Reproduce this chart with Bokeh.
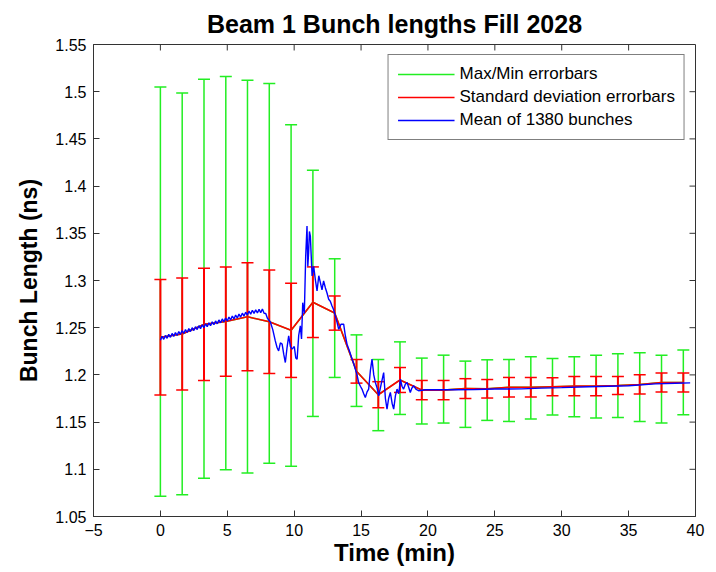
from bokeh.plotting import figure
from bokeh.models import Range1d, FixedTicker, LinearAxis, Whisker, ColumnDataSource, TeeHead, Legend, LegendItem
from bokeh.embed import file_html
from bokeh.resources import INLINE

# Error bar sample times (min)
bar_t = [0.00, 1.63, 3.26, 4.89, 6.51, 8.14, 9.77, 11.40, 13.03, 14.66, 16.29, 17.91, 19.54,
         21.17, 22.80, 24.43, 26.06, 27.69, 29.31, 30.94, 32.57, 34.20, 35.83, 37.46, 39.09]
# Mean bunch length (ns) at bar times
bar_mean = [1.2398, 1.2433, 1.2535, 1.2565, 1.2616, 1.2563, 1.2472, 1.2770, 1.2655, 1.2038,
            1.1790, 1.1946, 1.1839, 1.1839, 1.1855, 1.1853, 1.1869, 1.1869, 1.1875, 1.1881,
            1.1881, 1.1888, 1.1899, 1.1919, 1.1919]
# Standard deviation (ns)
bar_std = [0.0612, 0.0593, 0.0595, 0.0578, 0.0573, 0.0548, 0.0499, 0.0374, 0.0181, 0.0125,
           0.0138, 0.0132, 0.0102, 0.0102, 0.0105, 0.0098, 0.0104, 0.0104, 0.0096, 0.0102,
           0.0102, 0.0095, 0.0102, 0.0101, 0.0101]
# Max / Min (ns)
bar_max = [1.5050, 1.4985, 1.5133, 1.5162, 1.5120, 1.5088, 1.4651, 1.4168, 1.3230, 1.2424,
           1.2163, 1.2350, 1.2178, 1.2209, 1.2146, 1.2160, 1.2163, 1.2191, 1.2173, 1.2191,
           1.2209, 1.2223, 1.2234, 1.2209, 1.2265]
bar_min = [1.0715, 1.0730, 1.0905, 1.0994, 1.0962, 1.1064, 1.1032, 1.1560, 1.1973, 1.1666,
           1.1409, 1.1581, 1.1480, 1.1490, 1.1444, 1.1518, 1.1507, 1.1533, 1.1575, 1.1557,
           1.1543, 1.1550, 1.1507, 1.1490, 1.1578]

# Mean of 1380 bunches, fine time resolution
mean_t = [0.000, 0.125, 0.250, 0.375, 0.500, 0.625, 0.750, 0.875, 1.000, 1.125, 1.250, 1.375,
          1.500, 1.625, 1.750, 1.875, 2.000, 2.125, 2.250, 2.375, 2.500, 2.625, 2.750, 2.875,
          3.000, 3.125, 3.250, 3.375, 3.500, 3.625, 3.750, 3.875, 4.000, 4.125, 4.250, 4.375,
          4.500, 4.625, 4.750, 4.875, 5.000, 5.125, 5.250, 5.375, 5.500, 5.625, 5.750, 5.875,
          6.000, 6.125, 6.250, 6.375, 6.500, 6.625, 6.750, 6.875, 7.000, 7.125, 7.250, 7.375,
          7.500, 7.625, 7.750, 7.875, 8.000,
          8.22, 8.40, 8.59, 8.72, 8.84, 8.97, 9.10, 9.22, 9.34, 9.46, 9.59, 9.72, 9.84, 10.01,
          10.12, 10.22, 10.34, 10.46, 10.55, 10.64, 10.76, 10.86, 10.96, 11.02, 11.08, 11.14,
          11.21, 11.34, 11.46, 11.58, 11.71, 11.84, 11.96, 12.08, 12.20, 12.33, 12.45, 12.58,
          12.70, 12.83, 12.95, 13.08, 13.20, 13.33, 13.50, 13.70, 13.82, 13.95, 14.14, 14.33,
          14.45, 14.57, 14.70, 14.82, 14.95, 15.07, 15.20, 15.32, 15.45, 15.57, 15.70, 15.82,
          15.95, 16.07, 16.20, 16.32, 16.50, 16.69, 16.82, 16.94, 17.06, 17.19, 17.32, 17.44,
          17.57, 17.69, 17.82, 17.94, 18.06, 18.18, 18.31, 18.44, 18.56, 18.68, 18.80, 18.93,
          19.10, 19.30, 19.55, 19.81,
          22.0, 23.5, 25.0, 27.0, 28.5, 30.0, 32.0, 33.5, 35.0, 37.0, 38.5, 39.6]
mean_v = [1.2367, 1.2408, 1.2377, 1.2418, 1.2388, 1.2429, 1.2398, 1.2439, 1.2408, 1.2449,
          1.2418, 1.2459, 1.2429, 1.2470, 1.2439, 1.2480, 1.2449, 1.2490, 1.2459, 1.2500,
          1.2470, 1.2511, 1.2480, 1.2521, 1.2490, 1.2531, 1.2500, 1.2541, 1.2511, 1.2552,
          1.2521, 1.2562, 1.2531, 1.2572, 1.2541, 1.2582, 1.2552, 1.2593, 1.2562, 1.2603,
          1.2572, 1.2613, 1.2582, 1.2623, 1.2593, 1.2634, 1.2603, 1.2644, 1.2613, 1.2654,
          1.2623, 1.2664, 1.2634, 1.2675, 1.2644, 1.2685, 1.2652, 1.2690, 1.2656, 1.2694,
          1.2660, 1.2698, 1.2652, 1.2650, 1.2600,
          1.2561, 1.2480, 1.2360, 1.2290, 1.2255, 1.2340, 1.2326, 1.2220, 1.2131, 1.2280,
          1.2413, 1.2300, 1.2273, 1.2300, 1.2180, 1.2167, 1.2420, 1.2519, 1.2380, 1.2765,
          1.2650, 1.3250, 1.3576, 1.3150, 1.3294, 1.3520, 1.3470, 1.3048, 1.3150, 1.3013,
          1.2889, 1.3050, 1.2977, 1.2900, 1.2995, 1.2924, 1.2870, 1.2801, 1.2780, 1.2731,
          1.2690, 1.2625, 1.2560, 1.2484, 1.2537, 1.2537, 1.2420, 1.2326, 1.2250, 1.2167,
          1.2120, 1.2061, 1.2000, 1.1920, 1.1880, 1.1850, 1.1800, 1.1761, 1.1820, 1.1850,
          1.2050, 1.2167, 1.2000, 1.1920, 1.1860, 1.1779, 1.1900, 1.2025, 1.1750, 1.1638,
          1.1750, 1.1814, 1.1700, 1.1638, 1.1780, 1.1850, 1.1800, 1.1956, 1.1880, 1.1850,
          1.1900, 1.1920, 1.1870, 1.1814, 1.1860, 1.1885, 1.1850, 1.1832, 1.1838, 1.1843,
          1.1843, 1.1845, 1.1850, 1.1852, 1.1860, 1.1865, 1.1874, 1.1880, 1.1885, 1.1905,
          1.1912, 1.1916]

x_ticks = [-5, 0, 5, 10, 15, 20, 25, 30, 35, 40]
y_ticks = [1.05, 1.1, 1.15, 1.2, 1.25, 1.3, 1.35, 1.4, 1.45, 1.5, 1.55]
y_tick_labels = ["1.05", "1.1", "1.15", "1.2", "1.25", "1.3", "1.35", "1.4", "1.45", "1.5", "1.55"]

FONT = "Liberation Sans"
AXIS_COLOR = "#333333"
X0, X1 = -5, 40
Y0, Y1 = 1.05, 1.55
FRAME_W, FRAME_H = 602, 473
TICK_PX = 6

p = figure(width=716, height=572, output_backend="svg", toolbar_location=None,
           x_range=Range1d(X0, X1), y_range=Range1d(Y0, Y1),
           min_border_left=93, min_border_right=21, min_border_top=43, min_border_bottom=56,
           x_axis_location=None, y_axis_location=None)
p.title.text = "Beam 1 Bunch lengths Fill 2028"
p.title.align = "center"
p.title.text_font = FONT
p.title.text_font_size = "25px"
p.title.text_font_style = "bold"
p.title.text_color = "black"
p.title.offset = 0
p.title.standoff = 14

p.xgrid.visible = False
p.ygrid.visible = False
p.outline_line_color = AXIS_COLOR
p.outline_line_width = 1
p.background_fill_color = "white"
p.border_fill_color = "white"

def make_axis():
    ax = LinearAxis()
    ax.axis_line_color = AXIS_COLOR
    ax.major_tick_line_color = AXIS_COLOR
    ax.major_tick_in = TICK_PX
    ax.major_tick_out = 0
    ax.minor_tick_line_color = None
    ax.major_label_text_font = FONT
    ax.major_label_text_font_size = "16px"
    ax.major_label_text_color = "black"
    ax.axis_label_text_color = "black"
    return ax

xb = make_axis()
xb.ticker = FixedTicker(ticks=x_ticks)
xb.axis_label = "Time (min)"
xb.axis_label_text_font = FONT
xb.axis_label_text_font_size = "24px"
xb.axis_label_text_font_style = "bold"
xb.axis_label_standoff = 0
xb.major_label_standoff = 7
p.add_layout(xb, "below")

yl = make_axis()
yl.ticker = FixedTicker(ticks=y_ticks)
yl.major_label_overrides = {t: s for t, s in zip(y_ticks, y_tick_labels)}
yl.axis_label = "Bunch Length (ns)"
yl.axis_label_text_font = FONT
yl.axis_label_text_font_size = "23px"
yl.axis_label_text_font_style = "bold"
yl.axis_label_standoff = 10
yl.major_label_standoff = 7
p.add_layout(yl, "left")

# inward ticks on the top and right sides of the box (MATLAB style)
dy = TICK_PX * (Y1 - Y0) / FRAME_H
dx = TICK_PX * (X1 - X0) / FRAME_W
top_x = [t for t in x_ticks if X0 < t < X1]
p.segment(x0=top_x, y0=[Y1] * len(top_x), x1=top_x, y1=[Y1 - dy] * len(top_x),
          line_color=AXIS_COLOR, line_width=1)
right_y = [t for t in y_ticks if Y0 < t < Y1]
p.segment(x0=[X1] * len(right_y), y0=right_y, x1=[X1 - dx] * len(right_y), y1=right_y,
          line_color=AXIS_COLOR, line_width=1)

GREEN = "#22ee22"
RED = "#ff0000"
BLUE = "#0000ff"

src = ColumnDataSource(dict(
    t=bar_t, mean=bar_mean,
    mx=bar_max, mn=bar_min,
    sd_hi=[m + s for m, s in zip(bar_mean, bar_std)],
    sd_lo=[m - s for m, s in zip(bar_mean, bar_std)],
))

gw = Whisker(base="t", upper="mx", lower="mn", source=src, dimension="height",
             line_color=GREEN, line_width=1.5,
             upper_head=TeeHead(size=12, line_color=GREEN, line_width=1.5),
             lower_head=TeeHead(size=12, line_color=GREEN, line_width=1.5))
p.add_layout(gw)
# max/min series line through the means (lies under the red one)
g_line = p.line("t", "mean", source=src, line_color=GREEN, line_width=1.5)

rw = Whisker(base="t", upper="sd_hi", lower="sd_lo", source=src, dimension="height",
             line_color=RED, line_width=2.0,
             upper_head=TeeHead(size=12, line_color=RED, line_width=1.5),
             lower_head=TeeHead(size=12, line_color=RED, line_width=1.5))
p.add_layout(rw)
r_line = p.line("t", "mean", source=src, line_color=RED, line_width=1.6)

b_line = p.line(mean_t, mean_v, line_color=BLUE, line_width=1.4)

legend = Legend(items=[
    LegendItem(label="Max/Min errorbars", renderers=[g_line]),
    LegendItem(label="Standard deviation errorbars", renderers=[r_line]),
    LegendItem(label="Mean of 1380 bunches", renderers=[b_line]),
], location="top_right")
legend.margin = 10
legend.padding = 9
legend.spacing = 3
legend.glyph_width = 57
legend.label_standoff = 5
legend.label_height = 19
legend.label_text_font = FONT
legend.label_text_font_size = "17px"
legend.label_text_color = "black"
legend.border_line_color = "black"
legend.border_line_width = 1
legend.background_fill_alpha = 1.0
p.add_layout(legend, "center")

open("out.html", "w").write(file_html(p, INLINE))
